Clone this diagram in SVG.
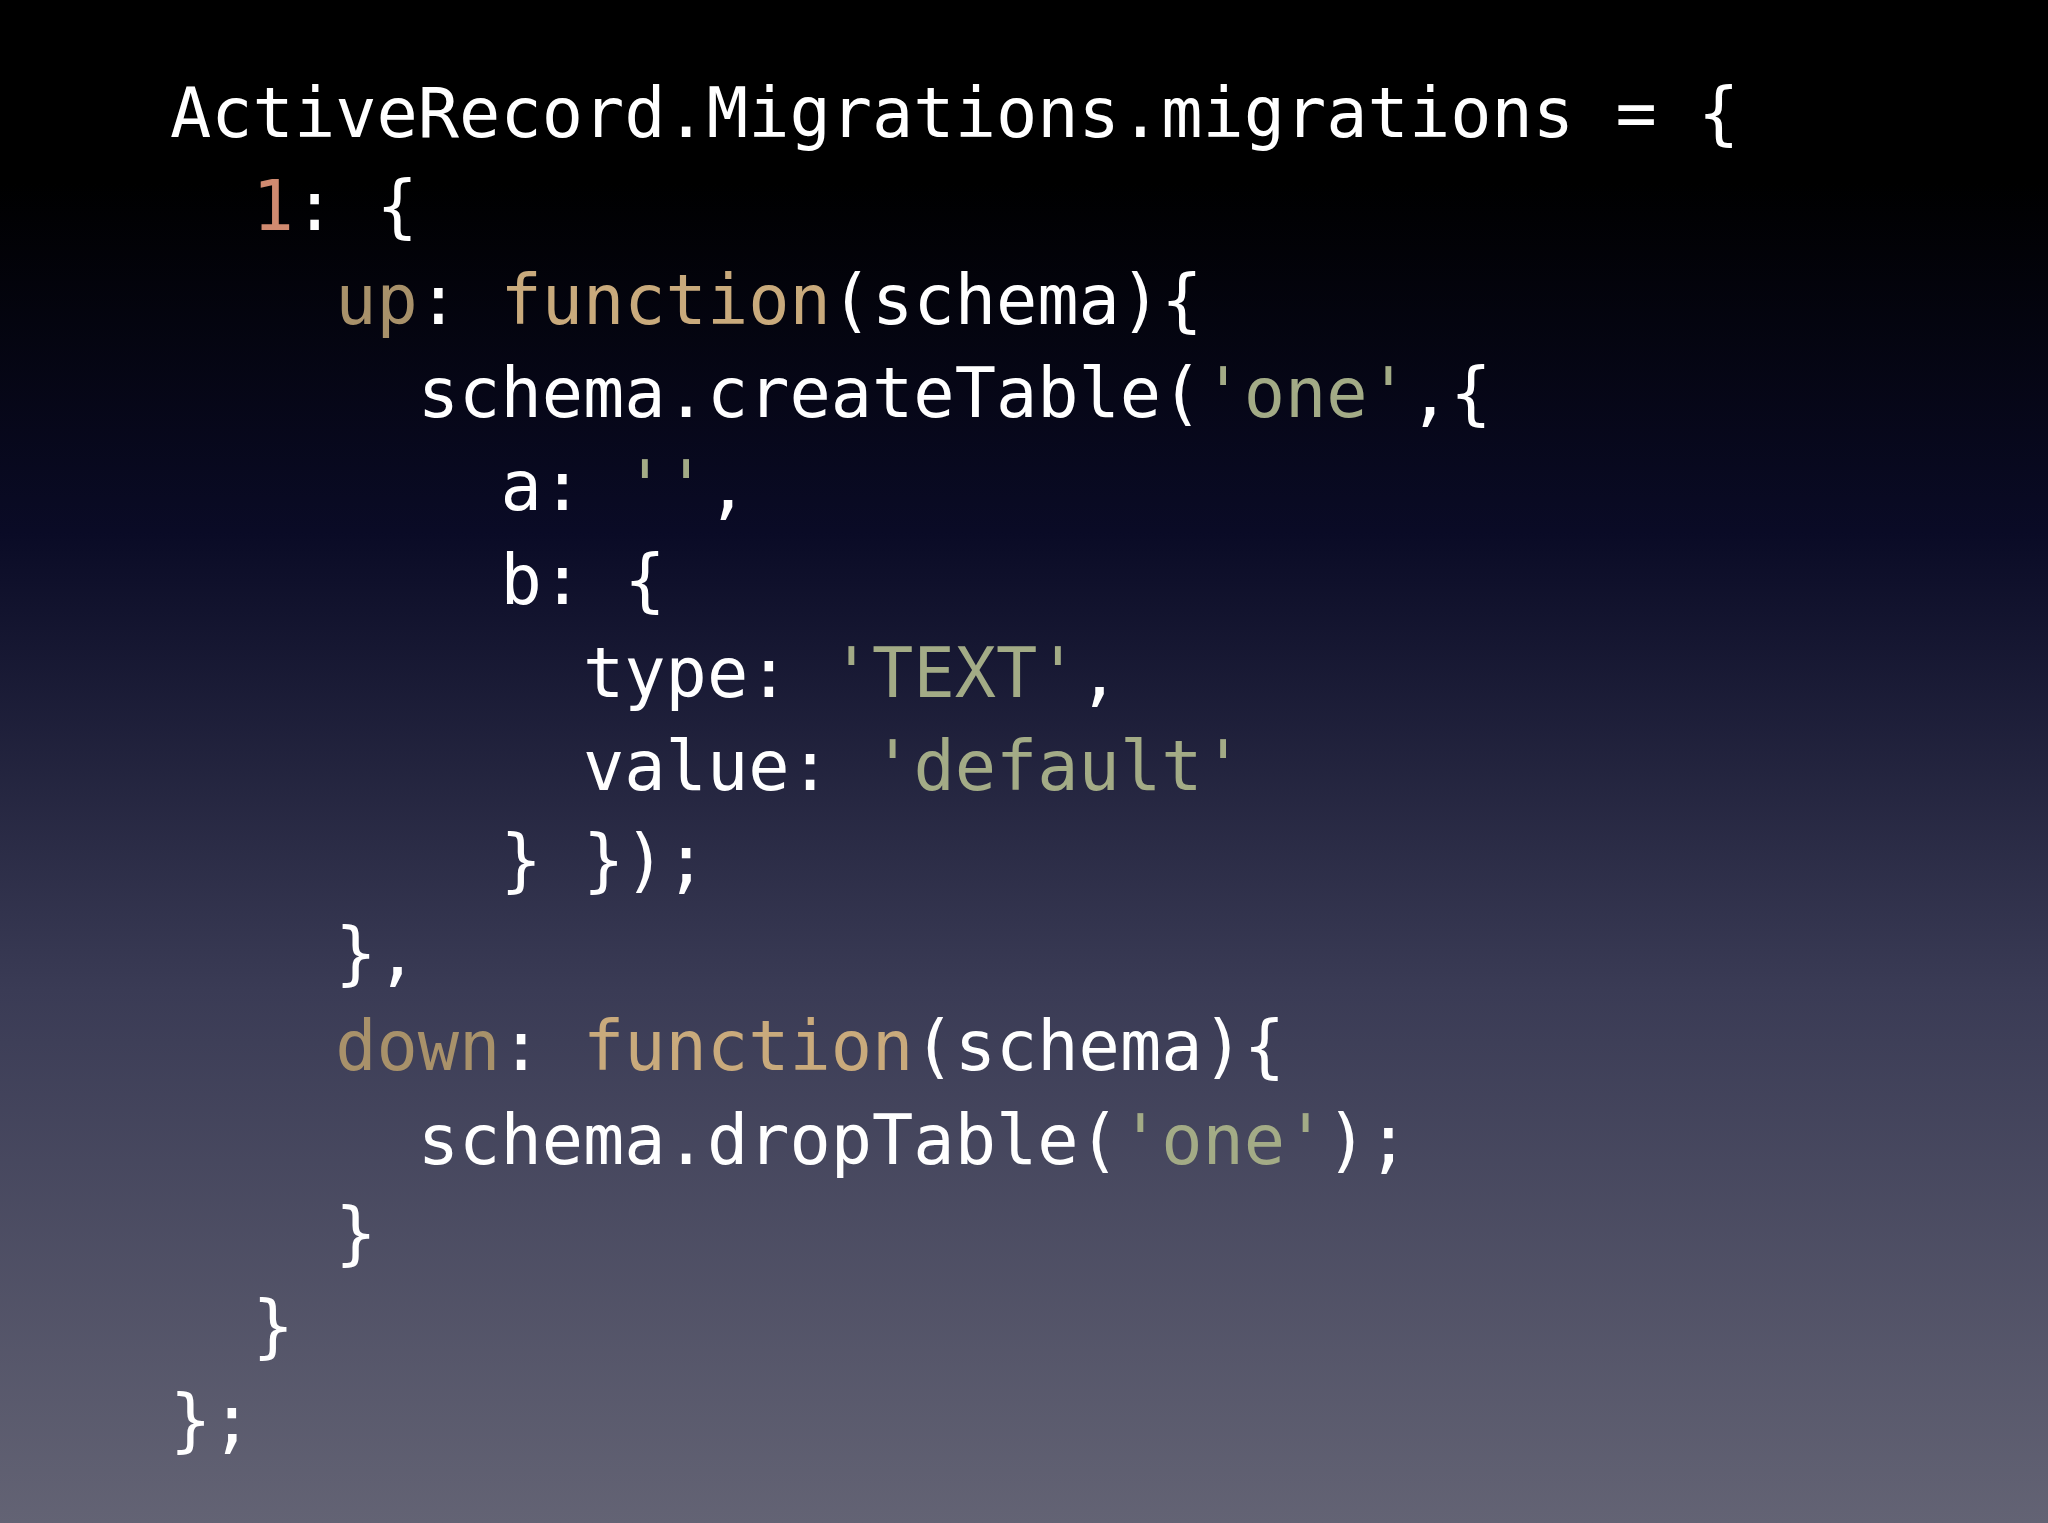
<svg xmlns="http://www.w3.org/2000/svg" width="2048" height="1523" viewBox="0 0 2048 1523">
<defs>
<linearGradient id="bg" x1="0" y1="0" x2="0" y2="1">
<stop offset="0" stop-color="#000000"/>
<stop offset="0.12" stop-color="#000000"/>
<stop offset="0.35" stop-color="#0a0b26"/>
<stop offset="0.65" stop-color="#3a3b55"/>
<stop offset="1" stop-color="#636374"/>
</linearGradient>
<style>
text{font-family:"DejaVu Sans Mono","Liberation Mono",monospace;font-size:68.6px;fill:#ffffff;white-space:pre}
.n{fill:#d08a70}.k{fill:#a8916a}.f{fill:#c9aa7c}.s{fill:#a3ab86}
</style>
</defs>
<rect width="2048" height="1523" fill="url(#bg)"/>
<g id="code">
<text x="170" y="137">ActiveRecord.Migrations.migrations = {</text>
<text x="252.6" y="230"><tspan class="n">1</tspan>: {</text>
<text x="335.2" y="324"><tspan class="k">up</tspan>: <tspan class="f">function</tspan>(schema){</text>
<text x="417.8" y="417">schema.createTable(<tspan class="s">'one'</tspan>,{</text>
<text x="500.4" y="510">a: <tspan class="s">''</tspan>,</text>
<text x="500.4" y="604">b: {</text>
<text x="583" y="697">type: <tspan class="s">'TEXT'</tspan>,</text>
<text x="583" y="790">value: <tspan class="s">'default'</tspan></text>
<text x="500.4" y="884">} });</text>
<text x="335.2" y="977">},</text>
<text x="335.2" y="1070"><tspan class="k">down</tspan>: <tspan class="f">function</tspan>(schema){</text>
<text x="417.8" y="1164">schema.dropTable(<tspan class="s">'one'</tspan>);</text>
<text x="335.2" y="1257">}</text>
<text x="252.6" y="1350">}</text>
<text x="170" y="1444">};</text>
</g>
</svg>
